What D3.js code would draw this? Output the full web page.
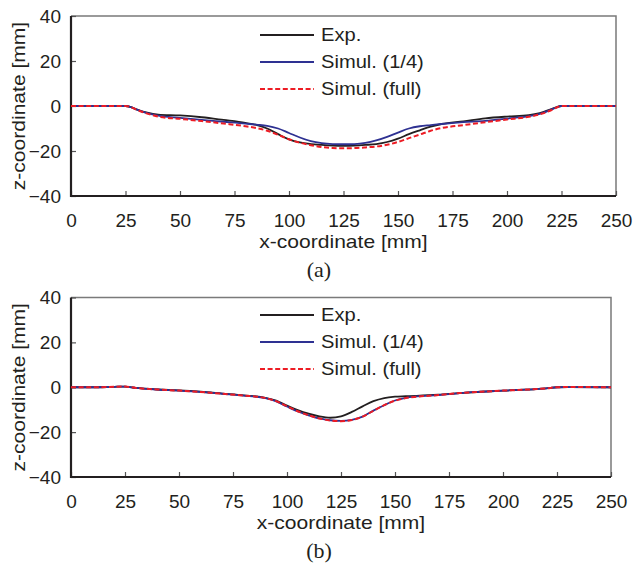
<!DOCTYPE html>
<html>
<head>
<meta charset="utf-8">
<script src="https://cdn.jsdelivr.net/npm/d3@7"></script>
<style>
  body { margin: 0; background: #fff; }
  svg { display: block; }
</style>
</head>
<body>
<div id="chart"></div>
<script>
// panel (a)
var xA = [0, 25, 27.5, 30, 35, 40, 50, 60, 70, 80, 85, 90, 95, 100, 105, 110, 115, 120, 125, 130, 135, 140, 145, 150, 155, 160, 165, 170, 180, 190, 200, 210, 215, 220, 222.5, 225, 250];
var expA = [0, 0, -0.5, -1.5, -3, -3.8, -4.2, -5, -6.2, -7.5, -8.4, -10, -12.5, -14.8, -16.2, -16.9, -17.3, -17.6, -17.7, -17.6, -17.3, -16.9, -16, -14.5, -12.5, -10.8, -9.2, -8, -6.8, -5.5, -4.7, -4.1, -3.2, -1.5, -0.6, 0, 0];
var quarterA = [0, 0, -0.5, -1.5, -3.2, -4.3, -5.3, -6.2, -7, -7.8, -8.3, -8.8, -10, -12, -14, -15.6, -16.5, -16.9, -17, -16.9, -16.4, -15.3, -13.7, -11.8, -10, -9, -8.5, -8, -7.2, -6.6, -5.6, -4.5, -3.5, -1.7, -0.7, 0, 0];
var fullA = [0, 0, -0.5, -1.6, -3.4, -4.7, -5.7, -6.7, -7.8, -9, -9.8, -11, -12.8, -14.8, -16.3, -17.4, -18.2, -18.7, -18.8, -18.7, -18.4, -18, -17.2, -16, -14.3, -12.7, -11, -9.8, -8.5, -7.2, -6, -4.8, -3.7, -2, -0.8, 0, 0];

// panel (b)
var xB = [0, 10, 20, 25, 30, 40, 50, 60, 70, 80, 90, 95, 100, 105, 110, 115, 120, 125, 130, 135, 140, 145, 150, 155, 160, 170, 180, 190, 200, 210, 220, 225, 230, 250];
var expB = [0, 0, 0.2, 0.3, -0.3, -1, -1.4, -2, -2.8, -3.6, -4.7, -6, -8.2, -10.2, -11.8, -13, -13.6, -13, -11, -8.5, -6.2, -4.8, -4.2, -4, -3.8, -3.3, -2.6, -2, -1.5, -1.1, -0.5, 0, 0.1, 0];
var quarterB = [0, 0, 0.2, 0.3, -0.3, -1, -1.5, -2.1, -2.9, -3.7, -4.9, -6.3, -8.6, -10.8, -12.5, -13.9, -14.7, -15, -14.5, -13.1, -10.4, -8, -5.9, -4.7, -4.1, -3.5, -2.6, -2, -1.5, -1.1, -0.5, 0, 0.1, 0];
var fullB = [0, 0, 0.2, 0.3, -0.3, -1, -1.5, -2.1, -2.9, -3.7, -4.8, -6.2, -8.5, -10.7, -12.5, -13.9, -14.8, -15.1, -14.6, -13.1, -10.5, -8, -6, -4.8, -4.2, -3.5, -2.6, -2, -1.5, -1.1, -0.5, 0, 0.1, 0];

var xTicks = [0, 25, 50, 75, 100, 125, 150, 175, 200, 225, 250];
var yTicks = [-40, -20, 0, 20, 40];
var seriesNames = ["Exp.", "Simul. (1/4)", "Simul. (full)"];
var seriesColors = ["#231f20", "#2e3192", "#ed1c24"];

var width = 633, height = 569;
var sans = "'Liberation Sans', Arial, sans-serif";

var svg = d3.select("#chart").append("svg")
    .attr("width", width)
    .attr("height", height);

var panels = [
    { label: "(a)", x: xA, series: [expA, quarterA, fullA], left: 71, right: 616, top: 16, bottom: 196, legendY: 19, labelY: 277 },
    { label: "(b)", x: xB, series: [expB, quarterB, fullB], left: 71, right: 611, top: 297.5, bottom: 477, legendY: 17.5, labelY: 558 }
];

panels.forEach(function (p) {
    var scaleX = d3.scaleLinear([0, 250], [p.left, p.right]);
    var scaleY = d3.scaleLinear([-40, 40], [p.bottom, p.top]);
    var g = svg.append("g");

    // frame: gray top/right
    g.append("path")
        .attr("d", `M${p.left},${p.top}H${p.right}V${p.bottom}`)
        .attr("fill", "none")
        .attr("stroke", "#7a7a7a")
        .attr("stroke-width", 1.5);

    var axisX = d3.axisBottom(scaleX).tickValues(xTicks).tickSize(-5).tickPadding(17.5);
    var gx = g.append("g")
        .attr("transform", `translate(0,${p.bottom})`)
        .call(axisX);

    var axisY = d3.axisLeft(scaleY).tickValues(yTicks).tickSize(-5).tickPadding(10);
    var gy = g.append("g")
        .attr("transform", `translate(${p.left},0)`)
        .call(axisY);

    [gx, gy].forEach(function (ax) {
        ax.select(".domain").remove();
        ax.selectAll(".tick line").attr("stroke", "#555").attr("stroke-width", 1.2);
        ax.selectAll(".tick text")
            .attr("font-family", sans)
            .attr("font-size", "19px")
            .attr("fill", "#231f20");
    });

    // black left/bottom axes
    g.append("path")
        .attr("d", `M${p.left},${p.top}V${p.bottom}H${p.right}`)
        .attr("fill", "none")
        .attr("stroke", "#231f20")
        .attr("stroke-width", 2.2);

    var line = d3.line()
        .x(function (d) { return scaleX(d[0]); })
        .y(function (d) { return scaleY(d[1]); })
        .curve(d3.curveMonotoneX);

    p.series.forEach(function (values, i) {
        var pts = p.x.map(function (v, k) { return [v, values[k]]; });
        g.append("path")
            .attr("d", line(pts))
            .attr("fill", "none")
            .attr("stroke", seriesColors[i])
            .attr("stroke-width", i == 2 ? 2 : 1.8)
            .attr("stroke-dasharray", i == 2 ? "5,2.6" : null);
    });

    // legend
    seriesNames.forEach(function (name, i) {
        var ly = p.top + p.legendY + i * 27;
        g.append("line")
            .attr("x1", 260).attr("x2", 314)
            .attr("y1", ly).attr("y2", ly)
            .attr("stroke", seriesColors[i])
            .attr("stroke-width", i == 2 ? 2 : 1.8)
            .attr("stroke-dasharray", i == 2 ? "5,2.6" : null);
        g.append("text")
            .attr("transform", `translate(321,${ly}) scale(1.15,1)`)
            .attr("dy", "0.36em")
            .attr("font-family", sans)
            .attr("font-size", "17.5px")
            .attr("fill", "#231f20")
            .text(name);
    });

    // axis titles
    g.append("text")
        .attr("transform", `translate(${(p.left + p.right) / 2},${p.bottom + 51.5}) scale(1.17,1)`)
        .attr("text-anchor", "middle")
        .attr("font-family", sans)
        .attr("font-size", "18px")
        .attr("fill", "#231f20")
        .text("x-coordinate [mm]");

    g.append("text")
        .attr("transform", `translate(25,${(p.top + p.bottom) / 2}) rotate(-90) scale(1.17,1)`)
        .attr("text-anchor", "middle")
        .attr("font-family", sans)
        .attr("font-size", "18px")
        .attr("fill", "#231f20")
        .text("z-coordinate [mm]");

    g.append("text")
        .attr("x", 319)
        .attr("y", p.labelY)
        .attr("text-anchor", "middle")
        .attr("font-family", "'Liberation Serif', 'Times New Roman', serif")
        .attr("font-size", "22px")
        .attr("fill", "#231f20")
        .text(p.label);
});
</script>
</body>
</html>
